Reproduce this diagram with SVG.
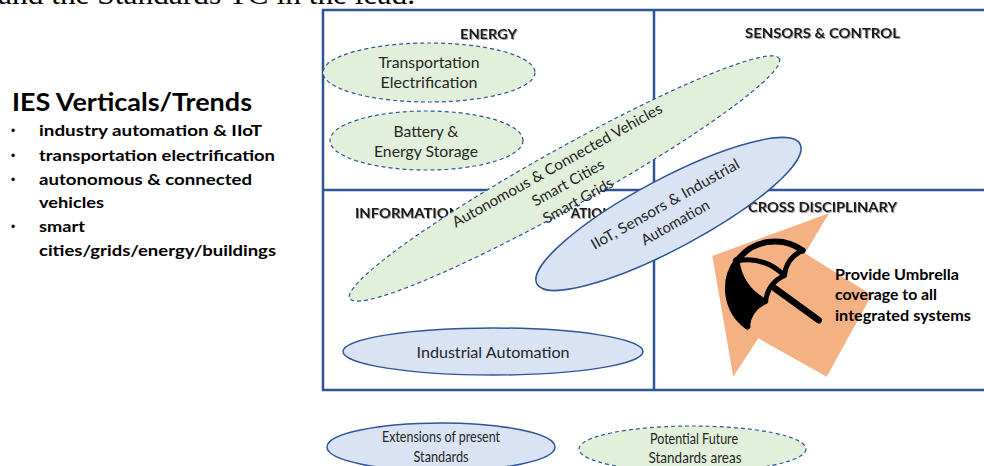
<svg xmlns="http://www.w3.org/2000/svg" width="984" height="466" viewBox="0 0 984 466">
<defs>
<style>
.sans{font-family:Lato,"Open Sans","Liberation Sans",sans-serif;}
.lbl{font-family:Lato,"Open Sans","Liberation Sans",sans-serif;font-weight:bold;font-size:13.5px;fill:#1a1a1a;}
.et{font-family:Lato,"Open Sans","Liberation Sans",sans-serif;font-size:15px;fill:#262626;}
.grn{fill:#E2EFDA;stroke:#2F5597;stroke-width:1.2;stroke-dasharray:4 3;}
.blu{fill:#DAE3F3;stroke:#2F5597;stroke-width:1.5;}
.bul{font-family:Lato,"Open Sans","Liberation Sans",sans-serif;font-weight:bold;font-size:15px;fill:#000;}
.dot{font-family:"Liberation Sans",sans-serif;font-size:12px;fill:#000;}
.ink{stroke:#000;fill:none;stroke-linecap:round;stroke-linejoin:round;}
</style>
<filter id="sh" x="-10%" y="-30%" width="120%" height="160%">
<feDropShadow dx="1" dy="1" stdDeviation="0.7" flood-color="#000" flood-opacity="0.35"/>
</filter>
</defs>
<rect width="984" height="466" fill="#fff"/>

<text x="-2" y="4" font-family="'Liberation Serif',serif" font-size="30" fill="#000" textLength="417" lengthAdjust="spacingAndGlyphs">and the Standards TC in the lead.</text>

<g id="trends">
<text class="sans" x="12" y="111" font-size="25" font-weight="bold" fill="#000" textLength="240" lengthAdjust="spacingAndGlyphs">IES Verticals/Trends</text>
<text class="dot" x="11" y="135">•</text>
<text class="bul" x="39" y="136" textLength="223" lengthAdjust="spacingAndGlyphs">industry automation &amp; IIoT</text>
<text class="dot" x="11" y="160">•</text>
<text class="bul" x="39" y="161" textLength="236" lengthAdjust="spacingAndGlyphs">transportation electrification</text>
<text class="dot" x="11" y="184">•</text>
<text class="bul" x="39" y="185" textLength="213" lengthAdjust="spacingAndGlyphs">autonomous &amp; connected</text>
<text class="bul" x="39" y="208" textLength="65" lengthAdjust="spacingAndGlyphs">vehicles</text>
<text class="dot" x="11" y="231">•</text>
<text class="bul" x="39" y="232" textLength="46" lengthAdjust="spacingAndGlyphs">smart</text>
<text class="bul" x="39" y="256" textLength="237" lengthAdjust="spacingAndGlyphs">cities/grids/energy/buildings</text>
</g>

<g id="grid">
<rect x="323" y="10" width="690" height="380" fill="none" stroke="#2F5597" stroke-width="2.5"/>
<line x1="654" y1="10" x2="654" y2="390" stroke="#2F5597" stroke-width="2.5"/>
<line x1="323" y1="190" x2="1013" y2="190" stroke="#2F5597" stroke-width="2.5"/>
<g filter="url(#sh)">
<text class="lbl" x="460" y="39" textLength="57" lengthAdjust="spacingAndGlyphs">ENERGY</text>
<text class="lbl" x="745" y="38" textLength="155" lengthAdjust="spacingAndGlyphs">SENSORS &amp; CONTROL</text>
<text class="lbl" x="355" y="218" textLength="105" lengthAdjust="spacingAndGlyphs">INFORMATION</text>
<text class="lbl" x="620" y="218" text-anchor="end">ATIONS</text>
<text class="lbl" x="748" y="212" textLength="149" lengthAdjust="spacingAndGlyphs">CROSS DISCIPLINARY</text>
</g>
</g>

<g id="transport">
<ellipse class="grn" cx="429" cy="72.5" rx="106" ry="29.5"/>
<text class="et" x="429" y="68" text-anchor="middle" textLength="101" lengthAdjust="spacingAndGlyphs">Transportation</text>
<text class="et" x="429" y="88" text-anchor="middle" textLength="97" lengthAdjust="spacingAndGlyphs">Electrification</text>
</g>

<g id="battery">
<ellipse class="grn" cx="426.5" cy="140.5" rx="96.5" ry="29.5"/>
<text class="et" x="426" y="137" text-anchor="middle" textLength="65" lengthAdjust="spacingAndGlyphs">Battery &amp;</text>
<text class="et" x="426" y="157" text-anchor="middle" textLength="104" lengthAdjust="spacingAndGlyphs">Energy Storage</text>
</g>

<g id="autonomous" transform="translate(564.5,178.5) rotate(-29.2)">
<ellipse class="grn" cx="0" cy="0" rx="246" ry="29"/>
<text class="et" x="0" y="-10" text-anchor="middle" font-size="16" textLength="238" lengthAdjust="spacingAndGlyphs">Autonomous &amp; Connected Vehicles</text>
<text class="et" x="1" y="10.5" text-anchor="middle" font-size="16" textLength="80" lengthAdjust="spacingAndGlyphs">Smart Cities</text>
<text class="et" x="1" y="31" text-anchor="middle" font-size="16" textLength="78" lengthAdjust="spacingAndGlyphs">Smart Grids</text>
</g>

<g id="iiot">
<ellipse class="blu" cx="668.5" cy="214" rx="149" ry="35" transform="rotate(-28 668.5 214)"/>
<g transform="translate(670,213) rotate(-29.5)">
<text class="et" x="0" y="-5" text-anchor="middle" font-size="15.5" textLength="168" lengthAdjust="spacingAndGlyphs">IIoT, Sensors &amp; Industrial</text>
<text class="et" x="0" y="16" text-anchor="middle" font-size="15.5" textLength="76" lengthAdjust="spacingAndGlyphs">Automation</text>
</g>
</g>

<g id="industrial">
<ellipse class="blu" cx="493" cy="351.5" rx="150" ry="23.5"/>
<text class="et" x="493" y="358" text-anchor="middle" textLength="153" lengthAdjust="spacingAndGlyphs">Industrial Automation</text>
</g>

<g id="umbrella">
<polygon points="712.3,256 829,213.3 805,253.3 871.7,295 826.7,376.7 758.3,338.3 733.3,376.7" fill="#F4B183"/>
<g transform="translate(775,288.5) rotate(-54)">
<path d="M -47,0 C -47,-26 -26,-47 0,-47 Q -20,-28 -16,0 Q -31.5,-9 -47,0 Z" fill="#000"/>
<path class="ink" stroke-width="6" d="M -47,0 C -47,-26 -26,-47 0,-47 C 26,-47 47,-26 47,0"/>
<path class="ink" stroke-width="5" d="M -47,0 Q -31.5,-9 -16,0 Q 0,-9 16,0 Q 31.5,-9 47,0"/>
<path class="ink" stroke-width="5" d="M 0,-47 Q -20,-28 -16,0 M 0,-47 Q 20,-28 16,0"/>
<circle cx="0" cy="-47" r="4" fill="#000"/>
<path class="ink" stroke-width="6.5" d="M 0,0 L 0,54"/>
</g>
<text class="bul" x="835" y="280" textLength="124" lengthAdjust="spacingAndGlyphs">Provide Umbrella</text>
<text class="bul" x="835" y="300" textLength="102" lengthAdjust="spacingAndGlyphs">coverage to all</text>
<text class="bul" x="835" y="321" textLength="136" lengthAdjust="spacingAndGlyphs">integrated systems</text>
</g>

<g id="legend-present">
<ellipse class="blu" cx="441" cy="447" rx="114" ry="24"/>
<text class="et" x="441" y="442" text-anchor="middle" textLength="118" lengthAdjust="spacingAndGlyphs">Extensions of present</text>
<text class="et" x="441" y="462" text-anchor="middle" textLength="55" lengthAdjust="spacingAndGlyphs">Standards</text>
</g>

<g id="legend-future">
<ellipse class="grn" cx="692.5" cy="449" rx="113.5" ry="23"/>
<text class="et" x="694" y="444" text-anchor="middle" textLength="88" lengthAdjust="spacingAndGlyphs">Potential Future</text>
<text class="et" x="695" y="463" text-anchor="middle" textLength="93" lengthAdjust="spacingAndGlyphs">Standards areas</text>
</g>

<g id="connectors"></g>
</svg>
